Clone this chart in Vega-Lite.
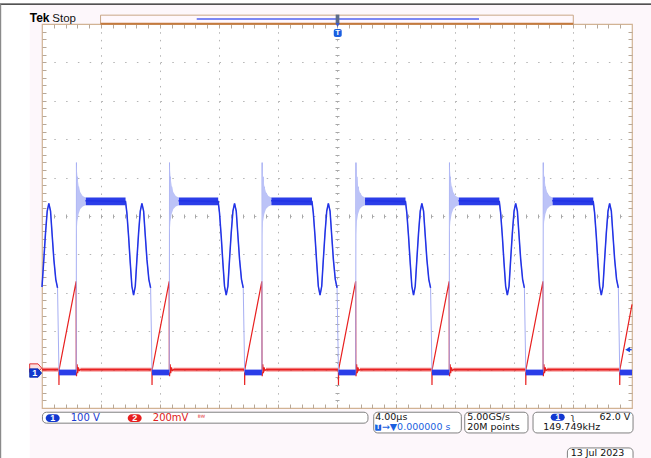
{
"$schema": "https://vega.github.io/schema/vega-lite/v6.json",
"width": 590, "height": 384,
"autosize": {"type": "none"},
"padding": {"left": 42, "top": 24, "right": 19, "bottom": 50},
"background": "#fdf7fb",
"config": {"view": {"stroke": "#d2b394", "strokeWidth": 1.2, "fill": "#ffffff"}, "axis": {"title": null}},
"resolve": {"scale": {"y": "independent"}, "axis": {"x": "independent", "y": "independent"}},
"data": {"values": [{}]},
"datasets": {
"ch1": [
{"t":-20.0,"v":225,"s":"k0"},{"t":-19.876,"v":297,"s":"k0"},{"t":-19.761,"v":366,"s":"k0"},{"t":-19.646,"v":423,"s":"k0"},{"t":-19.536,"v":443,"s":"k0"},{"t":-19.421,"v":423,"s":"k0"},{"t":-19.306,"v":358,"s":"k0"},{"t":-19.196,"v":297,"s":"k0"},{"t":-19.066,"v":245,"s":"k0"},{"t":-18.946,"v":223,"s":"k0"},
{"t":-18.85,"v":3,"s":"x"},{"t":-17.68,"v":3,"s":"x"},{"t":-17.665,"v":549,"s":"x"},{"t":-17.64,"v":415,"s":"x"},{"t":-17.605,"v":512,"s":"x"},{"t":-17.565,"v":425,"s":"x"},{"t":-17.52,"v":486,"s":"x"},{"t":-17.465,"v":436,"s":"x"},{"t":-17.405,"v":470,"s":"x"},{"t":-17.33,"v":442,"s":"x"},{"t":-17.24,"v":457,"s":"x"},{"t":-17.15,"v":445,"s":"x"},{"t":-17.05,"v":450,"s":"k1"},
{"t":-14.336,"v":448,"s":"k1"},{"t":-14.246,"v":418,"s":"k1"},{"t":-14.131,"v":358,"s":"k1"},{"t":-14.016,"v":288,"s":"k1"},{"t":-13.906,"v":227,"s":"k1"},{"t":-13.791,"v":204,"s":"k1"},{"t":-13.676,"v":227,"s":"k1"},{"t":-13.566,"v":297,"s":"k1"},{"t":-13.451,"v":366,"s":"k1"},{"t":-13.336,"v":423,"s":"k1"},{"t":-13.226,"v":443,"s":"k1"},{"t":-13.111,"v":423,"s":"k1"},{"t":-12.996,"v":358,"s":"k1"},{"t":-12.886,"v":297,"s":"k1"},{"t":-12.756,"v":245,"s":"k1"},{"t":-12.636,"v":223,"s":"k1"},
{"t":-12.54,"v":3,"s":"x"},{"t":-11.37,"v":3,"s":"x"},{"t":-11.355,"v":549,"s":"x"},{"t":-11.33,"v":415,"s":"x"},{"t":-11.295,"v":512,"s":"x"},{"t":-11.255,"v":425,"s":"x"},{"t":-11.21,"v":486,"s":"x"},{"t":-11.155,"v":436,"s":"x"},{"t":-11.095,"v":470,"s":"x"},{"t":-11.02,"v":442,"s":"x"},{"t":-10.93,"v":457,"s":"x"},{"t":-10.84,"v":445,"s":"x"},{"t":-10.74,"v":450,"s":"k2"},
{"t":-8.056,"v":448,"s":"k2"},{"t":-7.966,"v":418,"s":"k2"},{"t":-7.851,"v":358,"s":"k2"},{"t":-7.736,"v":288,"s":"k2"},{"t":-7.626,"v":227,"s":"k2"},{"t":-7.511,"v":204,"s":"k2"},{"t":-7.396,"v":227,"s":"k2"},{"t":-7.286,"v":297,"s":"k2"},{"t":-7.171,"v":366,"s":"k2"},{"t":-7.056,"v":423,"s":"k2"},{"t":-6.946,"v":443,"s":"k2"},{"t":-6.831,"v":423,"s":"k2"},{"t":-6.716,"v":358,"s":"k2"},{"t":-6.606,"v":297,"s":"k2"},{"t":-6.476,"v":245,"s":"k2"},{"t":-6.356,"v":223,"s":"k2"},
{"t":-6.26,"v":3,"s":"x"},{"t":-5.09,"v":3,"s":"x"},{"t":-5.075,"v":549,"s":"x"},{"t":-5.05,"v":415,"s":"x"},{"t":-5.015,"v":512,"s":"x"},{"t":-4.975,"v":425,"s":"x"},{"t":-4.93,"v":486,"s":"x"},{"t":-4.875,"v":436,"s":"x"},{"t":-4.815,"v":470,"s":"x"},{"t":-4.74,"v":442,"s":"x"},{"t":-4.65,"v":457,"s":"x"},{"t":-4.56,"v":445,"s":"x"},{"t":-4.46,"v":450,"s":"k3"},
{"t":-1.696,"v":448,"s":"k3"},{"t":-1.606,"v":418,"s":"k3"},{"t":-1.491,"v":358,"s":"k3"},{"t":-1.376,"v":288,"s":"k3"},{"t":-1.266,"v":227,"s":"k3"},{"t":-1.151,"v":204,"s":"k3"},{"t":-1.036,"v":227,"s":"k3"},{"t":-0.926,"v":297,"s":"k3"},{"t":-0.811,"v":366,"s":"k3"},{"t":-0.696,"v":423,"s":"k3"},{"t":-0.586,"v":443,"s":"k3"},{"t":-0.471,"v":423,"s":"k3"},{"t":-0.356,"v":358,"s":"k3"},{"t":-0.246,"v":297,"s":"k3"},{"t":-0.116,"v":245,"s":"k3"},{"t":0.004,"v":223,"s":"k3"},
{"t":0.1,"v":3,"s":"x"},{"t":1.27,"v":3,"s":"x"},{"t":1.285,"v":549,"s":"x"},{"t":1.31,"v":415,"s":"x"},{"t":1.345,"v":512,"s":"x"},{"t":1.385,"v":425,"s":"x"},{"t":1.43,"v":486,"s":"x"},{"t":1.485,"v":436,"s":"x"},{"t":1.545,"v":470,"s":"x"},{"t":1.62,"v":442,"s":"x"},{"t":1.71,"v":457,"s":"x"},{"t":1.8,"v":445,"s":"x"},{"t":1.9,"v":450,"s":"k4"},
{"t":4.644,"v":448,"s":"k4"},{"t":4.734,"v":418,"s":"k4"},{"t":4.849,"v":358,"s":"k4"},{"t":4.964,"v":288,"s":"k4"},{"t":5.074,"v":227,"s":"k4"},{"t":5.189,"v":204,"s":"k4"},{"t":5.304,"v":227,"s":"k4"},{"t":5.414,"v":297,"s":"k4"},{"t":5.529,"v":366,"s":"k4"},{"t":5.644,"v":423,"s":"k4"},{"t":5.754,"v":443,"s":"k4"},{"t":5.869,"v":423,"s":"k4"},{"t":5.984,"v":358,"s":"k4"},{"t":6.094,"v":297,"s":"k4"},{"t":6.224,"v":245,"s":"k4"},{"t":6.344,"v":223,"s":"k4"},
{"t":6.44,"v":3,"s":"x"},{"t":7.61,"v":3,"s":"x"},{"t":7.625,"v":549,"s":"x"},{"t":7.65,"v":415,"s":"x"},{"t":7.685,"v":512,"s":"x"},{"t":7.725,"v":425,"s":"x"},{"t":7.77,"v":486,"s":"x"},{"t":7.825,"v":436,"s":"x"},{"t":7.885,"v":470,"s":"x"},{"t":7.96,"v":442,"s":"x"},{"t":8.05,"v":457,"s":"x"},{"t":8.14,"v":445,"s":"x"},{"t":8.24,"v":450,"s":"k5"},
{"t":11.004,"v":448,"s":"k5"},{"t":11.094,"v":418,"s":"k5"},{"t":11.209,"v":358,"s":"k5"},{"t":11.324,"v":288,"s":"k5"},{"t":11.434,"v":227,"s":"k5"},{"t":11.549,"v":204,"s":"k5"},{"t":11.664,"v":227,"s":"k5"},{"t":11.774,"v":297,"s":"k5"},{"t":11.889,"v":366,"s":"k5"},{"t":12.004,"v":423,"s":"k5"},{"t":12.114,"v":443,"s":"k5"},{"t":12.229,"v":423,"s":"k5"},{"t":12.344,"v":358,"s":"k5"},{"t":12.454,"v":297,"s":"k5"},{"t":12.584,"v":245,"s":"k5"},{"t":12.704,"v":223,"s":"k5"},
{"t":12.8,"v":3,"s":"x"},{"t":13.97,"v":3,"s":"x"},{"t":13.985,"v":549,"s":"x"},{"t":14.01,"v":415,"s":"x"},{"t":14.045,"v":512,"s":"x"},{"t":14.085,"v":425,"s":"x"},{"t":14.13,"v":486,"s":"x"},{"t":14.185,"v":436,"s":"x"},{"t":14.245,"v":470,"s":"x"},{"t":14.32,"v":442,"s":"x"},{"t":14.41,"v":457,"s":"x"},{"t":14.5,"v":445,"s":"x"},{"t":14.6,"v":450,"s":"k6"},
{"t":17.374,"v":448,"s":"k6"},{"t":17.464,"v":418,"s":"k6"},{"t":17.579,"v":358,"s":"k6"},{"t":17.694,"v":288,"s":"k6"},{"t":17.804,"v":227,"s":"k6"},{"t":17.919,"v":204,"s":"k6"},{"t":18.034,"v":227,"s":"k6"},{"t":18.144,"v":297,"s":"k6"},{"t":18.259,"v":366,"s":"k6"},{"t":18.374,"v":423,"s":"k6"},{"t":18.484,"v":443,"s":"k6"},{"t":18.599,"v":423,"s":"k6"},{"t":18.714,"v":358,"s":"k6"},{"t":18.824,"v":297,"s":"k6"},{"t":18.954,"v":245,"s":"k6"},{"t":19.074,"v":223,"s":"k6"},
{"t":19.17,"v":3,"s":"x"},{"t":20.0,"v":3,"s":"x"}
],
"ch1band": [
{"t":-18.85,"lo":-5,"hi":10,"seg":"o1","part":"dense"},{"t":-17.68,"lo":-5,"hi":10,"seg":"o1","part":"dense"},
{"t":-12.54,"lo":-5,"hi":10,"seg":"o2","part":"dense"},{"t":-11.37,"lo":-5,"hi":10,"seg":"o2","part":"dense"},
{"t":-6.26,"lo":-5,"hi":10,"seg":"o3","part":"dense"},{"t":-5.09,"lo":-5,"hi":10,"seg":"o3","part":"dense"},
{"t":0.1,"lo":-5,"hi":10,"seg":"o4","part":"dense"},{"t":1.27,"lo":-5,"hi":10,"seg":"o4","part":"dense"},
{"t":6.44,"lo":-5,"hi":10,"seg":"o5","part":"dense"},{"t":7.61,"lo":-5,"hi":10,"seg":"o5","part":"dense"},
{"t":12.8,"lo":-5,"hi":10,"seg":"o6","part":"dense"},{"t":13.97,"lo":-5,"hi":10,"seg":"o6","part":"dense"},
{"t":19.17,"lo":-5,"hi":10,"seg":"o7","part":"dense"},{"t":20.0,"lo":-5,"hi":10,"seg":"o7","part":"dense"},
{"t":-17.05,"lo":438,"hi":458,"seg":"f1","part":"dense"},{"t":-14.336,"lo":438,"hi":458,"seg":"f1","part":"dense"},
{"t":-10.74,"lo":438,"hi":458,"seg":"f2","part":"dense"},{"t":-8.056,"lo":438,"hi":458,"seg":"f2","part":"dense"},
{"t":-4.46,"lo":438,"hi":458,"seg":"f3","part":"dense"},{"t":-1.696,"lo":438,"hi":458,"seg":"f3","part":"dense"},
{"t":1.9,"lo":438,"hi":458,"seg":"f4","part":"dense"},{"t":4.644,"lo":438,"hi":458,"seg":"f4","part":"dense"},
{"t":8.24,"lo":438,"hi":458,"seg":"f5","part":"dense"},{"t":11.004,"lo":438,"hi":458,"seg":"f5","part":"dense"},
{"t":14.6,"lo":438,"hi":458,"seg":"f6","part":"dense"},{"t":17.374,"lo":438,"hi":458,"seg":"f6","part":"dense"},
{"t":-17.665,"lo":360,"hi":549,"seg":"r1","part":"ring"},{"t":-17.605,"lo":395,"hi":515,"seg":"r1","part":"ring"},{"t":-17.52,"lo":415,"hi":488,"seg":"r1","part":"ring"},{"t":-17.405,"lo":428,"hi":472,"seg":"r1","part":"ring"},{"t":-17.24,"lo":435,"hi":462,"seg":"r1","part":"ring"},{"t":-17.05,"lo":438,"hi":458,"seg":"r1","part":"ring"},
{"t":-11.355,"lo":360,"hi":549,"seg":"r2","part":"ring"},{"t":-11.295,"lo":395,"hi":515,"seg":"r2","part":"ring"},{"t":-11.21,"lo":415,"hi":488,"seg":"r2","part":"ring"},{"t":-11.095,"lo":428,"hi":472,"seg":"r2","part":"ring"},{"t":-10.93,"lo":435,"hi":462,"seg":"r2","part":"ring"},{"t":-10.74,"lo":438,"hi":458,"seg":"r2","part":"ring"},
{"t":-5.075,"lo":360,"hi":549,"seg":"r3","part":"ring"},{"t":-5.015,"lo":395,"hi":515,"seg":"r3","part":"ring"},{"t":-4.93,"lo":415,"hi":488,"seg":"r3","part":"ring"},{"t":-4.815,"lo":428,"hi":472,"seg":"r3","part":"ring"},{"t":-4.65,"lo":435,"hi":462,"seg":"r3","part":"ring"},{"t":-4.46,"lo":438,"hi":458,"seg":"r3","part":"ring"},
{"t":1.285,"lo":360,"hi":549,"seg":"r4","part":"ring"},{"t":1.345,"lo":395,"hi":515,"seg":"r4","part":"ring"},{"t":1.43,"lo":415,"hi":488,"seg":"r4","part":"ring"},{"t":1.545,"lo":428,"hi":472,"seg":"r4","part":"ring"},{"t":1.71,"lo":435,"hi":462,"seg":"r4","part":"ring"},{"t":1.9,"lo":438,"hi":458,"seg":"r4","part":"ring"},
{"t":7.625,"lo":360,"hi":549,"seg":"r5","part":"ring"},{"t":7.685,"lo":395,"hi":515,"seg":"r5","part":"ring"},{"t":7.77,"lo":415,"hi":488,"seg":"r5","part":"ring"},{"t":7.885,"lo":428,"hi":472,"seg":"r5","part":"ring"},{"t":8.05,"lo":435,"hi":462,"seg":"r5","part":"ring"},{"t":8.24,"lo":438,"hi":458,"seg":"r5","part":"ring"},
{"t":13.985,"lo":360,"hi":549,"seg":"r6","part":"ring"},{"t":14.045,"lo":395,"hi":515,"seg":"r6","part":"ring"},{"t":14.13,"lo":415,"hi":488,"seg":"r6","part":"ring"},{"t":14.245,"lo":428,"hi":472,"seg":"r6","part":"ring"},{"t":14.41,"lo":435,"hi":462,"seg":"r6","part":"ring"},{"t":14.6,"lo":438,"hi":458,"seg":"r6","part":"ring"}
],
"ch2": [
{"t":-20.0,"mv":0},{"t":-18.855,"mv":0},
{"t":-18.85,"mv":-80},{"t":-18.84,"mv":0},{"t":-17.685,"mv":460},{"t":-17.675,"mv":0},{"t":-17.66,"mv":-35},{"t":-17.62,"mv":28},{"t":-17.58,"mv":-18},{"t":-17.53,"mv":12},{"t":-17.47,"mv":-5},{"t":-17.4,"mv":0},{"t":-12.545,"mv":0},
{"t":-12.54,"mv":-80},{"t":-12.53,"mv":0},{"t":-11.375,"mv":460},{"t":-11.365,"mv":0},{"t":-11.35,"mv":-35},{"t":-11.31,"mv":28},{"t":-11.27,"mv":-18},{"t":-11.22,"mv":12},{"t":-11.16,"mv":-5},{"t":-11.09,"mv":0},{"t":-6.265,"mv":0},
{"t":-6.26,"mv":-80},{"t":-6.25,"mv":0},{"t":-5.095,"mv":460},{"t":-5.085,"mv":0},{"t":-5.07,"mv":-35},{"t":-5.03,"mv":28},{"t":-4.99,"mv":-18},{"t":-4.94,"mv":12},{"t":-4.88,"mv":-5},{"t":-4.81,"mv":0},{"t":0.095,"mv":0},
{"t":0.1,"mv":-80},{"t":0.11,"mv":0},{"t":1.265,"mv":460},{"t":1.275,"mv":0},{"t":1.29,"mv":-35},{"t":1.33,"mv":28},{"t":1.37,"mv":-18},{"t":1.42,"mv":12},{"t":1.48,"mv":-5},{"t":1.55,"mv":0},{"t":6.435,"mv":0},
{"t":6.44,"mv":-80},{"t":6.45,"mv":0},{"t":7.605,"mv":460},{"t":7.615,"mv":0},{"t":7.63,"mv":-35},{"t":7.67,"mv":28},{"t":7.71,"mv":-18},{"t":7.76,"mv":12},{"t":7.82,"mv":-5},{"t":7.89,"mv":0},{"t":12.795,"mv":0},
{"t":12.8,"mv":-80},{"t":12.81,"mv":0},{"t":13.965,"mv":460},{"t":13.975,"mv":0},{"t":13.99,"mv":-35},{"t":14.03,"mv":28},{"t":14.07,"mv":-18},{"t":14.12,"mv":12},{"t":14.18,"mv":-5},{"t":14.25,"mv":0},{"t":19.165,"mv":0},
{"t":19.17,"mv":-80},{"t":19.18,"mv":0},{"t":20.0,"mv":340}
],
"ch2band": [
{"t":-20.0,"lo":-10,"hi":10,"seg":"b0"},{"t":-18.86,"lo":-10,"hi":10,"seg":"b0"},
{"t":-17.4,"lo":-10,"hi":10,"seg":"b1"},{"t":-12.545,"lo":-10,"hi":10,"seg":"b1"},
{"t":-11.09,"lo":-10,"hi":10,"seg":"b2"},{"t":-6.265,"lo":-10,"hi":10,"seg":"b2"},
{"t":-4.81,"lo":-10,"hi":10,"seg":"b3"},{"t":0.095,"lo":-10,"hi":10,"seg":"b3"},
{"t":1.55,"lo":-10,"hi":10,"seg":"b4"},{"t":6.435,"lo":-10,"hi":10,"seg":"b4"},
{"t":7.89,"lo":-10,"hi":10,"seg":"b5"},{"t":12.795,"lo":-10,"hi":10,"seg":"b5"},
{"t":14.25,"lo":-10,"hi":10,"seg":"b6"},{"t":19.165,"lo":-10,"hi":10,"seg":"b6"}
]
},
"layer": [
{"mark": {"type": "rect", "fill": "#ffffff"},
 "encoding": {"x": {"datum": -22.9, "scale": {"domain": [-20, 20]}, "axis": null}, "x2": {"datum": -20.83},
  "y": {"datum": 1930, "scale": {"domain": [-200, 1800]}, "axis": {"orient": "right", "offset": -4, "tickSize": 4, "tickColor": "#b8a898", "labels": false, "domain": false, "grid": false, "title": null, "values": [-160,-120,-80,-40,0,40,80,120,160,200,240,280,320,360,400,440,480,520,560,600,640,680,720,760,800,840,880,920,960,1000,1040,1080,1120,1160,1200,1240,1280,1320,1360,1400,1440,1480,1520,1560,1600,1640,1680,1720,1760]}}, "y2": {"datum": -470}}},
{"mark": {"type": "rect", "fill": "#ffffff"},
 "encoding": {"x": {"datum": -22.9, "scale": {"domain": [-20, 20]}, "axis": null}, "x2": {"datum": 21.3},
  "y": {"datum": 1930, "scale": {"domain": [-200, 1800]}, "axis": {"orient": "left", "offset": -297, "tickSize": 4, "tickColor": "#a8a8a8", "labels": false, "domain": false, "grid": false, "title": null, "values": [-160,-120,-80,-40,0,40,80,120,160,200,240,280,320,360,400,440,480,520,560,600,640,680,720,760,800,840,880,920,960,1000,1040,1080,1120,1160,1200,1240,1280,1320,1360,1400,1440,1480,1520,1560,1600,1640,1680,1720,1760]}}, "y2": {"datum": 1904.5}}},
{"mark": {"type": "rule", "color": "#1a1a1a", "strokeWidth": 1.3},
 "encoding": {"x": {"datum": -22.9, "scale": {"domain": [-20, 20]}, "axis": null}, "x2": {"datum": 21.3},
  "y": {"datum": 1903, "scale": {"domain": [-200, 1800]}, "axis": null}}},
{"mark": {"type": "rule", "color": "#8a8a8a", "strokeWidth": 1.6},
 "encoding": {"x": {"datum": -22.82, "scale": {"domain": [-20, 20]}, "axis": null},
  "y": {"datum": 1903, "scale": {"domain": [-200, 1800]}, "axis": null}, "y2": {"datum": -470}}},
{"data": {"name": "ch2band"},
 "mark": {"type": "area", "color": "#ec3a3a", "opacity": 0.7},
 "encoding": {"x": {"field": "t", "type": "quantitative", "scale": {"domain": [-20, 20]}, "axis": {"orient": "bottom", "values": [-16,-12,-8,-4,0,4,8,12,16], "grid": true, "gridColor": "#b4b4b4", "gridDash": [1.5, 6.18], "gridWidth": 1, "ticks": false, "labels": false, "domain": false, "title": null}},
  "y": {"field": "hi", "type": "quantitative", "scale": {"domain": [-200, 1800]}, "axis": {"orient": "left", "values": [0,200,400,600,800,1000,1200,1400,1600], "grid": true, "gridColor": "#b4b4b4", "gridDash": [1.5, 10.3], "gridWidth": 1, "ticks": false, "labels": false, "domain": false, "title": null}},
  "y2": {"field": "lo"}, "detail": {"field": "seg"}}},
{"data": {"name": "ch2"},
 "mark": {"type": "line", "color": "#e82020", "strokeWidth": 1.2},
 "encoding": {"x": {"field": "t", "type": "quantitative", "scale": {"domain": [-20, 20]}, "axis": {"orient": "bottom", "offset": -4, "tickSize": 4, "tickColor": "#b8a898", "labels": false, "domain": false, "grid": false, "title": null, "values": [-19.2,-18.4,-17.6,-16.8,-16,-15.2,-14.4,-13.6,-12.8,-12,-11.2,-10.4,-9.6,-8.8,-8,-7.2,-6.4,-5.6,-4.8,-4,-3.2,-2.4,-1.6,-0.8,0,0.8,1.6,2.4,3.2,4,4.8,5.6,6.4,7.2,8,8.8,9.6,10.4,11.2,12,12.8,13.6,14.4,15.2,16,16.8,17.6,18.4,19.2]}},
  "y": {"field": "mv", "type": "quantitative", "scale": {"domain": [-200, 1800]}, "axis": {"orient": "left", "offset": -4, "tickSize": 4, "tickColor": "#b8a898", "labels": false, "domain": false, "grid": false, "title": null, "values": [-160,-120,-80,-40,0,40,80,120,160,200,240,280,320,360,400,440,480,520,560,600,640,680,720,760,800,840,880,920,960,1000,1040,1080,1120,1160,1200,1240,1280,1320,1360,1400,1440,1480,1520,1560,1600,1640,1680,1720,1760]}}}},
{"data": {"name": "ch1"},
 "mark": {"type": "line", "color": "#a7aff3", "strokeWidth": 1},
 "encoding": {"x": {"field": "t", "type": "quantitative", "scale": {"domain": [-20, 20]}, "axis": null},
  "y": {"field": "v", "type": "quantitative", "scale": {"domain": [-90, 910]}, "axis": null}}},
{"data": {"name": "ch1band"},
 "mark": {"type": "area"},
 "encoding": {"x": {"field": "t", "type": "quantitative", "scale": {"domain": [-20, 20]}, "axis": {"orient": "top", "offset": -4, "tickSize": 4, "tickColor": "#b8a898", "labels": false, "domain": false, "grid": false, "title": null, "values": [-19.2,-18.4,-17.6,-16.8,-16,-15.2,-14.4,-13.6,-12.8,-12,-11.2,-10.4,-9.6,-8.8,-8,-7.2,-6.4,-5.6,-4.8,-4,-3.2,-2.4,-1.6,-0.8,0,0.8,1.6,2.4,3.2,4,4.8,5.6,6.4,7.2,8,8.8,9.6,10.4,11.2,12,12.8,13.6,14.4,15.2,16,16.8,17.6,18.4,19.2]}},
  "y": {"field": "hi", "type": "quantitative", "scale": {"domain": [-90, 910]}, "axis": null},
  "y2": {"field": "lo"}, "detail": {"field": "seg"},
  "color": {"field": "part", "type": "nominal", "scale": {"domain": ["dense", "ring"], "range": ["#2b3de8", "#bcc3f7"]}, "legend": null}}},
{"data": {"name": "ch1"},
 "transform": [{"filter": {"not": {"field": "s", "equal": "x"}}}],
 "mark": {"type": "line", "color": "#2233e6", "strokeWidth": 1.5},
 "encoding": {"x": {"field": "t", "type": "quantitative", "scale": {"domain": [-20, 20]}, "axis": {"orient": "top", "offset": -194, "tickSize": 4, "tickColor": "#a8a8a8", "labels": false, "domain": false, "grid": false, "title": null, "values": [-19.2,-18.4,-17.6,-16.8,-16,-15.2,-14.4,-13.6,-12.8,-12,-11.2,-10.4,-9.6,-8.8,-8,-7.2,-6.4,-5.6,-4.8,-4,-3.2,-2.4,-1.6,-0.8,0,0.8,1.6,2.4,3.2,4,4.8,5.6,6.4,7.2,8,8.8,9.6,10.4,11.2,12,12.8,13.6,14.4,15.2,16,16.8,17.6,18.4,19.2]}},
  "y": {"field": "v", "type": "quantitative", "scale": {"domain": [-90, 910]}, "axis": null},
  "detail": {"field": "s"}}},
{"mark": {"type": "rule", "color": "#1a44e0", "strokeWidth": 1.5},
 "encoding": {"x": {"datum": 19.7, "scale": {"domain": [-20, 20]}, "axis": null}, "x2": {"datum": 19.98},
  "y": {"datum": 62, "scale": {"domain": [-90, 910]}, "axis": null}}},
{"mark": {"type": "point", "shape": "triangle-left", "filled": true, "color": "#1a44e0", "size": 30, "opacity": 1},
 "encoding": {"x": {"datum": 19.7, "scale": {"domain": [-20, 20]}, "axis": null},
  "y": {"datum": 62, "scale": {"domain": [-90, 910]}, "axis": null}}},
{"mark": {"type": "text", "text": "Tek", "font": "Liberation Sans", "fontSize": 12, "fontWeight": "bold", "color": "#000000", "align": "left", "baseline": "alphabetic"},
 "encoding": {"x": {"datum": -20.83, "scale": {"domain": [-20, 20]}, "axis": null}, "y": {"datum": 1810, "scale": {"domain": [-200, 1800]}, "axis": null}}},
{"mark": {"type": "text", "text": "Stop", "font": "Liberation Sans", "fontSize": 11.5, "color": "#111111", "align": "left", "baseline": "alphabetic"},
 "encoding": {"x": {"datum": -19.3, "scale": {"domain": [-20, 20]}, "axis": null}, "y": {"datum": 1810, "scale": {"domain": [-200, 1800]}, "axis": null}}},
{"mark": {"type": "rect", "fill": "#fff8fc", "stroke": "#c9a688", "strokeWidth": 1},
 "encoding": {"x": {"datum": -16.03, "scale": {"domain": [-20, 20]}, "axis": null}, "x2": {"datum": 16.02},
  "y": {"datum": 1846, "scale": {"domain": [-200, 1800]}, "axis": null}, "y2": {"datum": 1801}}},
{"mark": {"type": "rule", "color": "#c47a3e", "strokeWidth": 2},
 "encoding": {"x": {"datum": -16.03, "scale": {"domain": [-20, 20]}, "axis": null}, "x2": {"datum": 16.02},
  "y": {"datum": 1801, "scale": {"domain": [-200, 1800]}, "axis": null}}},
{"mark": {"type": "rule", "color": "#5060f0", "strokeWidth": 1.5},
 "encoding": {"x": {"datum": -9.51, "scale": {"domain": [-20, 20]}, "axis": null}, "x2": {"datum": 9.63},
  "y": {"datum": 1826.6, "scale": {"domain": [-200, 1800]}, "axis": null}}},
{"mark": {"type": "rect", "fill": "#5c6a88"},
 "encoding": {"x": {"datum": -0.09, "scale": {"domain": [-20, 20]}, "axis": null}, "x2": {"datum": 0.16},
  "y": {"datum": 1849, "scale": {"domain": [-200, 1800]}, "axis": null}, "y2": {"datum": 1803}}},
{"mark": {"type": "point", "shape": "triangle-down", "filled": true, "color": "#3a5ad0", "size": 20, "opacity": 1},
 "encoding": {"x": {"datum": 0.04, "scale": {"domain": [-20, 20]}, "axis": null}, "y": {"datum": 1795, "scale": {"domain": [-200, 1800]}, "axis": null}}},
{"mark": {"type": "rect", "fill": "#1a5fe0", "cornerRadius": 2},
 "encoding": {"x": {"datum": -0.22, "scale": {"domain": [-20, 20]}, "axis": null}, "x2": {"datum": 0.32},
  "y": {"datum": 1774, "scale": {"domain": [-200, 1800]}, "axis": null}, "y2": {"datum": 1732}}},
{"mark": {"type": "text", "text": "T", "font": "Liberation Sans", "fontSize": 8, "fontWeight": "bold", "color": "#ffffff", "align": "center", "baseline": "middle"},
 "encoding": {"x": {"datum": 0.05, "scale": {"domain": [-20, 20]}, "axis": null}, "y": {"datum": 1753, "scale": {"domain": [-200, 1800]}, "axis": null}}},
{"mark": {"type": "point", "shape": "M -1 -0.7 L 0.4 -0.7 L 1 0 L 0.4 0.7 L -1 0.7 Z", "filled": true, "fill": "#fbe0e0", "stroke": "#e03030", "strokeWidth": 1, "size": 144, "opacity": 1},
 "encoding": {"x": {"datum": -20.43, "scale": {"domain": [-20, 20]}, "axis": null}, "y": {"datum": 8, "scale": {"domain": [-200, 1800]}, "axis": null}}},
{"mark": {"type": "point", "shape": "M -1 -0.7 L 0.4 -0.7 L 1 0 L 0.4 0.7 L -1 0.7 Z", "filled": true, "fill": "#1238d0", "stroke": "#0a2aa8", "strokeWidth": 0.8, "size": 144, "opacity": 1},
 "encoding": {"x": {"datum": -20.43, "scale": {"domain": [-20, 20]}, "axis": null}, "y": {"datum": -18, "scale": {"domain": [-200, 1800]}, "axis": null}}},
{"mark": {"type": "text", "text": "1", "font": "Liberation Sans", "fontSize": 9, "fontWeight": "bold", "color": "#ffffff", "align": "center", "baseline": "middle"},
 "encoding": {"x": {"datum": -20.5, "scale": {"domain": [-20, 20]}, "axis": null}, "y": {"datum": -18, "scale": {"domain": [-200, 1800]}, "axis": null}}},
{"mark": {"type": "rect", "fill": "#ffffff", "stroke": "#808080", "strokeWidth": 1, "cornerRadius": 4},
 "encoding": {"x": {"datum": -19.97, "scale": {"domain": [-20, 20]}, "axis": null}, "x2": {"datum": 2.1},
  "y": {"datum": -222, "scale": {"domain": [-200, 1800]}, "axis": null}, "y2": {"datum": -279}}},
{"mark": {"type": "rect", "fill": "#ffffff", "stroke": "#808080", "strokeWidth": 1, "cornerRadius": 4},
 "encoding": {"x": {"datum": 2.49, "scale": {"domain": [-20, 20]}, "axis": null}, "x2": {"datum": 8.43},
  "y": {"datum": -222, "scale": {"domain": [-200, 1800]}, "axis": null}, "y2": {"datum": -330}}},
{"mark": {"type": "rect", "fill": "#ffffff", "stroke": "#808080", "strokeWidth": 1, "cornerRadius": 4},
 "encoding": {"x": {"datum": 8.66, "scale": {"domain": [-20, 20]}, "axis": null}, "x2": {"datum": 12.95},
  "y": {"datum": -222, "scale": {"domain": [-200, 1800]}, "axis": null}, "y2": {"datum": -330}}},
{"mark": {"type": "rect", "fill": "#ffffff", "stroke": "#808080", "strokeWidth": 1, "cornerRadius": 4},
 "encoding": {"x": {"datum": 13.29, "scale": {"domain": [-20, 20]}, "axis": null}, "x2": {"datum": 20.07},
  "y": {"datum": -222, "scale": {"domain": [-200, 1800]}, "axis": null}, "y2": {"datum": -330}}},
{"mark": {"type": "rect", "fill": "#ffffff", "stroke": "#808080", "strokeWidth": 1, "cornerRadius": 4},
 "encoding": {"x": {"datum": 15.62, "scale": {"domain": [-20, 20]}, "axis": null}, "x2": {"datum": 20.07},
  "y": {"datum": -408, "scale": {"domain": [-200, 1800]}, "axis": null}, "y2": {"datum": -479}}},
{"mark": {"type": "rect", "fill": "#1238d0", "cornerRadius": 4},
 "encoding": {"x": {"datum": -19.75, "scale": {"domain": [-20, 20]}, "axis": null}, "x2": {"datum": -18.8},
  "y": {"datum": -232, "scale": {"domain": [-200, 1800]}, "axis": null}, "y2": {"datum": -273}}},
{"mark": {"type": "text", "text": "1", "font": "Liberation Sans", "fontSize": 9, "fontWeight": "bold", "color": "#ffffff", "align": "center", "baseline": "middle"},
 "encoding": {"x": {"datum": -19.27, "scale": {"domain": [-20, 20]}, "axis": null}, "y": {"datum": -252, "scale": {"domain": [-200, 1800]}, "axis": null}}},
{"mark": {"type": "text", "text": "100 V", "font": "DejaVu Sans", "fontSize": 10, "color": "#1a3ad0", "align": "left", "baseline": "middle"},
 "encoding": {"x": {"datum": -18.05, "scale": {"domain": [-20, 20]}, "axis": null}, "y": {"datum": -252, "scale": {"domain": [-200, 1800]}, "axis": null}}},
{"mark": {"type": "rect", "fill": "#e82020", "cornerRadius": 4},
 "encoding": {"x": {"datum": -14.19, "scale": {"domain": [-20, 20]}, "axis": null}, "x2": {"datum": -13.24},
  "y": {"datum": -232, "scale": {"domain": [-200, 1800]}, "axis": null}, "y2": {"datum": -273}}},
{"mark": {"type": "text", "text": "2", "font": "Liberation Sans", "fontSize": 9, "fontWeight": "bold", "color": "#ffffff", "align": "center", "baseline": "middle"},
 "encoding": {"x": {"datum": -13.72, "scale": {"domain": [-20, 20]}, "axis": null}, "y": {"datum": -252, "scale": {"domain": [-200, 1800]}, "axis": null}}},
{"mark": {"type": "text", "text": "200mV", "font": "DejaVu Sans", "fontSize": 10, "color": "#e02020", "align": "left", "baseline": "middle"},
 "encoding": {"x": {"datum": -12.49, "scale": {"domain": [-20, 20]}, "axis": null}, "y": {"datum": -252, "scale": {"domain": [-200, 1800]}, "axis": null}}},
{"mark": {"type": "text", "text": "ᴮᵂ", "font": "DejaVu Sans", "fontSize": 7, "color": "#e02020", "align": "left", "baseline": "middle"},
 "encoding": {"x": {"datum": -9.44, "scale": {"domain": [-20, 20]}, "axis": null}, "y": {"datum": -252, "scale": {"domain": [-200, 1800]}, "axis": null}}},
{"mark": {"type": "text", "text": "4.00µs", "font": "DejaVu Sans", "fontSize": 9.5, "color": "#111111", "align": "left", "baseline": "middle"},
 "encoding": {"x": {"datum": 2.59, "scale": {"domain": [-20, 20]}, "axis": null}, "y": {"datum": -247, "scale": {"domain": [-200, 1800]}, "axis": null}}},
{"mark": {"type": "rect", "fill": "#1a5fe0", "cornerRadius": 1},
 "encoding": {"x": {"datum": 2.59, "scale": {"domain": [-20, 20]}, "axis": null}, "x2": {"datum": 3.0},
  "y": {"datum": -284, "scale": {"domain": [-200, 1800]}, "axis": null}, "y2": {"datum": -318}}},
{"mark": {"type": "text", "text": "T", "font": "Liberation Sans", "fontSize": 7, "fontWeight": "bold", "color": "#ffffff", "align": "center", "baseline": "middle"},
 "encoding": {"x": {"datum": 2.795, "scale": {"domain": [-20, 20]}, "axis": null}, "y": {"datum": -301, "scale": {"domain": [-200, 1800]}, "axis": null}}},
{"mark": {"type": "text", "text": "→▼0.000000 s", "font": "DejaVu Sans", "fontSize": 9.5, "color": "#1a5fe0", "align": "left", "baseline": "middle"},
 "encoding": {"x": {"datum": 3.04, "scale": {"domain": [-20, 20]}, "axis": null}, "y": {"datum": -299, "scale": {"domain": [-200, 1800]}, "axis": null}}},
{"mark": {"type": "text", "text": "5.00GS/s", "font": "DejaVu Sans", "fontSize": 9.5, "color": "#111111", "align": "left", "baseline": "middle"},
 "encoding": {"x": {"datum": 8.83, "scale": {"domain": [-20, 20]}, "axis": null}, "y": {"datum": -247, "scale": {"domain": [-200, 1800]}, "axis": null}}},
{"mark": {"type": "text", "text": "20M points", "font": "DejaVu Sans", "fontSize": 9.5, "color": "#111111", "align": "left", "baseline": "middle"},
 "encoding": {"x": {"datum": 8.83, "scale": {"domain": [-20, 20]}, "axis": null}, "y": {"datum": -299, "scale": {"domain": [-200, 1800]}, "axis": null}}},
{"mark": {"type": "rect", "fill": "#1238d0", "cornerRadius": 4},
 "encoding": {"x": {"datum": 14.49, "scale": {"domain": [-20, 20]}, "axis": null}, "x2": {"datum": 15.44},
  "y": {"datum": -230, "scale": {"domain": [-200, 1800]}, "axis": null}, "y2": {"datum": -266}}},
{"mark": {"type": "text", "text": "1", "font": "Liberation Sans", "fontSize": 8.5, "fontWeight": "bold", "color": "#ffffff", "align": "center", "baseline": "middle"},
 "encoding": {"x": {"datum": 14.97, "scale": {"domain": [-20, 20]}, "axis": null}, "y": {"datum": -248, "scale": {"domain": [-200, 1800]}, "axis": null}}},
{"mark": {"type": "text", "text": "ʅ", "font": "DejaVu Sans", "fontSize": 9, "color": "#111111", "align": "left", "baseline": "middle"},
 "encoding": {"x": {"datum": 15.85, "scale": {"domain": [-20, 20]}, "axis": null}, "y": {"datum": -247, "scale": {"domain": [-200, 1800]}, "axis": null}}},
{"mark": {"type": "text", "text": "62.0 V", "font": "DejaVu Sans", "fontSize": 9.5, "color": "#111111", "align": "right", "baseline": "middle"},
 "encoding": {"x": {"datum": 19.88, "scale": {"domain": [-20, 20]}, "axis": null}, "y": {"datum": -247, "scale": {"domain": [-200, 1800]}, "axis": null}}},
{"mark": {"type": "text", "text": "149.749kHz", "font": "DejaVu Sans", "fontSize": 9.5, "color": "#111111", "align": "left", "baseline": "middle"},
 "encoding": {"x": {"datum": 13.98, "scale": {"domain": [-20, 20]}, "axis": null}, "y": {"datum": -299, "scale": {"domain": [-200, 1800]}, "axis": null}}},
{"mark": {"type": "text", "text": "13 Jul  2023", "font": "DejaVu Sans", "fontSize": 9.5, "color": "#111111", "align": "left", "baseline": "alphabetic"},
 "encoding": {"x": {"datum": 15.84, "scale": {"domain": [-20, 20]}, "axis": null}, "y": {"datum": -452, "scale": {"domain": [-200, 1800]}, "axis": null}}}
]
}
